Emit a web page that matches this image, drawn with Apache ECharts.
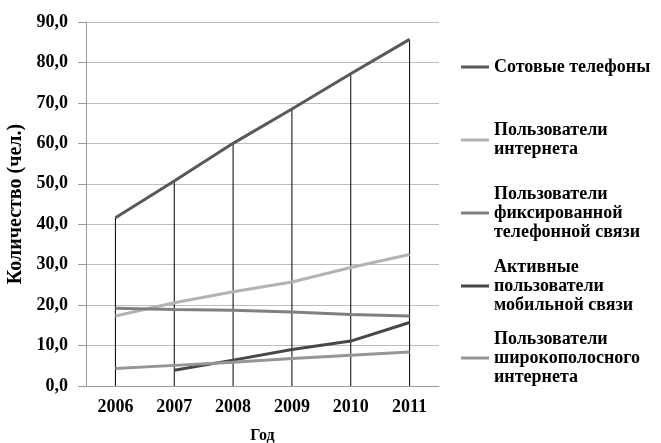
<!DOCTYPE html>
<html>
<head>
<meta charset="utf-8">
<script src="https://cdn.jsdelivr.net/npm/echarts@6/dist/echarts.min.js"></script>
<style>
  html, body { margin: 0; padding: 0; background: #fff; }
  #chart { width: 661px; height: 443px; }
</style>
</head>
<body>
<div id="chart"></div>
<script>
// годы и значения (чел. на 100 жителей)
const years = ['2006', '2007', '2008', '2009', '2010', '2011'];
const cellPhones = [41.6, 50.7, 60.0, 68.5, 77.2, 85.7];
const internetUsers = [17.3, 20.6, 23.3, 25.7, 29.3, 32.5];
const fixedPhone = [19.2, 18.9, 18.7, 18.3, 17.7, 17.3];
const activeMobile = [null, 3.9, 6.4, 9.0, 11.1, 15.7];
const broadband = [4.3, 5.1, 5.9, 6.8, 7.6, 8.4];

const names = [
  'Сотовые телефоны',
  'Пользователи\nинтернета',
  'Пользователи\nфиксированной\nтелефонной связи',
  'Активные\nпользователи\nмобильной связи',
  'Пользователи\nширокополосного\nинтернета'
];
const colors = ['#595959', '#b3b3b3', '#808080', '#474747', '#969696'];
const values = [cellPhones, internetUsers, fixedPhone, activeMobile, broadband];

const font = '"Liberation Serif", "Times New Roman", serif';
const lh = 19;
// центры значков легенды по вертикали
const legendY = [67, 140, 213, 286, 358];

const chart = echarts.init(document.getElementById('chart'));

const legends = names.map((n, i) => {
  const lines = n.split('\n').length;
  const h = (2 * lines - 1) * lh;
  return {
    data: [n],
    left: 461,
    top: legendY[i] - h / 2,
    padding: 0,
    icon: 'rect',
    itemWidth: 28,
    itemHeight: 3,
    selectedMode: false,
    textStyle: {
      fontFamily: font,
      fontWeight: 'bold',
      fontSize: 18,
      color: '#000',
      lineHeight: lh,
      padding: [(lines - 1) * lh, 0, 0, 0]
    }
  };
});

const option = {
  backgroundColor: '#fff',
  animation: false,
  legend: legends,
  grid: {
    left: 86,
    right: 222,
    top: 22,
    bottom: 57,
    outerBoundsMode: 'none'
  },
  xAxis: {
    type: 'category',
    data: years,
    boundaryGap: true,
    name: 'Год',
    nameLocation: 'middle',
    nameGap: 42,
    nameTextStyle: { fontFamily: font, fontWeight: 'bold', fontSize: 16, color: '#000' },
    axisLine: { lineStyle: { color: '#9a9a9a', width: 1 } },
    axisTick: { show: false },
    axisLabel: { fontFamily: font, fontWeight: 'bold', fontSize: 18, color: '#000', margin: 12 },
    splitLine: { show: false }
  },
  yAxis: {
    type: 'value',
    min: 0,
    max: 90,
    interval: 10,
    name: 'Количество (чел.)',
    nameLocation: 'middle',
    nameGap: 58,
    nameTextStyle: { fontFamily: font, fontWeight: 'bold', fontSize: 20, color: '#000' },
    axisLine: { show: true, lineStyle: { color: '#9a9a9a', width: 1 } },
    axisTick: { show: true, length: 8, lineStyle: { color: '#9a9a9a' } },
    axisLabel: {
      fontFamily: font, fontWeight: 'bold', fontSize: 18, color: '#000', margin: 18,
      formatter: v => v.toFixed(1).replace('.', ',')
    },
    splitLine: { lineStyle: { color: '#bdbdbd', width: 1 } }
  },
  series: [
    // вертикальные линии от сотовых телефонов к оси
    {
      type: 'bar',
      name: 'drop',
      data: cellPhones,
      barWidth: 1,
      itemStyle: { color: '#000' },
      z: 1,
      silent: true
    }
  ].concat(names.map((n, i) => ({
    type: 'line',
    name: n,
    data: values[i],
    color: colors[i],
    showSymbol: false,
    symbol: 'none',
    lineStyle: { width: 3, color: colors[i] },
    z: 3
  })))
};

chart.setOption(option);
</script>
</body>
</html>
